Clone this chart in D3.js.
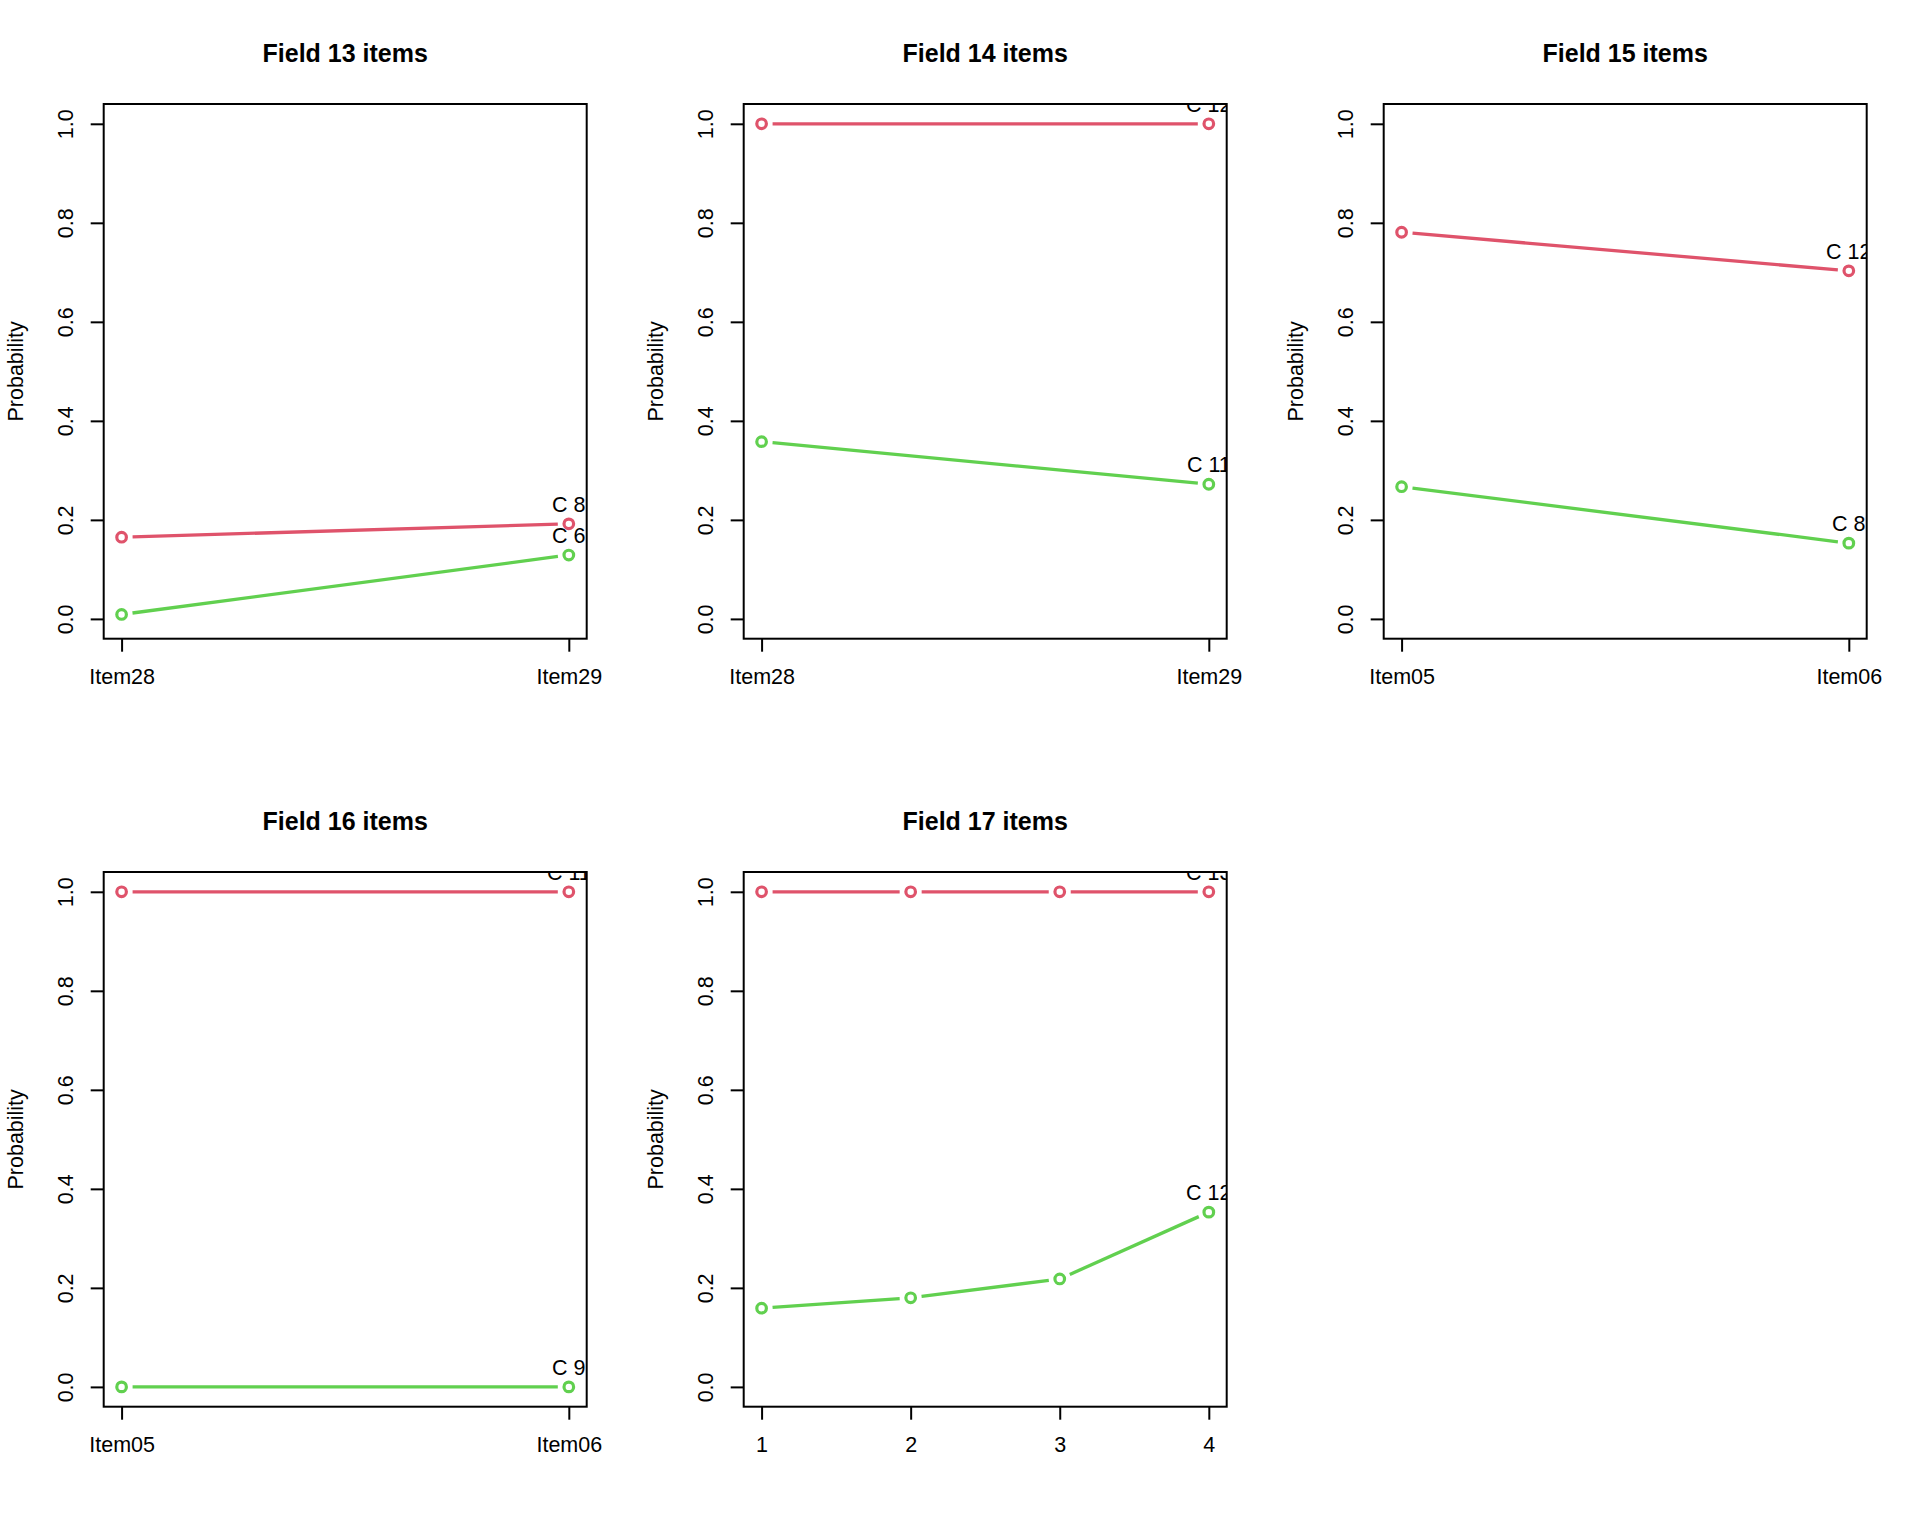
<!DOCTYPE html>
<html>
<head>
<meta charset="utf-8">
<script src="https://cdn.jsdelivr.net/npm/d3@7"></script>
<style>
  html, body { margin: 0; padding: 0; background: #ffffff; }
  svg { display: block; }
  text { font-family: "Liberation Sans", Arial, Helvetica, sans-serif; fill: #000; }
</style>
</head>
<body>
<script>
// ---- data ----
const panelTitles = ["Field 13 items", "Field 14 items", "Field 15 items", "Field 16 items", "Field 17 items"];
const panelTickLabels = [
  ["Item28", "Item29"],
  ["Item28", "Item29"],
  ["Item05", "Item06"],
  ["Item05", "Item06"],
  ["1", "2", "3", "4"]
];
const seriesRed = [
  [0.165, 0.192],
  [1.0, 1.0],
  [0.781, 0.703],
  [1.0, 1.0],
  [1.0, 1.0, 1.0, 1.0]
];
const seriesGreen = [
  [0.009, 0.129],
  [0.358, 0.272],
  [0.267, 0.153],
  [0.0, 0.0],
  [0.159, 0.180, 0.218, 0.353]
];
const labelsRed = ["C 8", "C 12", "C 12", "C 11", "C 13"];
const labelsGreen = ["C 6", "C 11", "C 8", "C 9", "C 12"];
const yTicks = [0, 0.2, 0.4, 0.6, 0.8, 1.0];
const seriesColors = ["#DF536B", "#61D04F"];

// ---- layout ----
const W = 1920, H = 1536;
const cellW = 640, cellH = 768;
const mL = 103.7, mR = 53.3, mT = 104, mB = 129.3;
const fontAxis = 21.5, fontTitle = 25;

const svg = d3.select("body").append("svg")
  .attr("width", W).attr("height", H)
  .attr("viewBox", `0 0 ${W} ${H}`);
svg.append("rect").attr("width", W).attr("height", H).attr("fill", "#fff");

const fmt = d3.format(".1f");

panelTitles.forEach((title, i) => {
  const col = i % 3, row = Math.floor(i / 3);
  const ox = col * cellW, oy = row * cellH;
  const L = ox + mL, R = ox + cellW - mR, T = oy + mT, B = oy + cellH - mB;
  const n = panelTickLabels[i].length;
  const pad = 0.04 * (n - 1);
  const x = d3.scaleLinear().domain([1 - pad, n + pad]).range([L, R]);
  const y = d3.scaleLinear().domain([-0.04, 1.04]).range([B, T]);

  const g = svg.append("g");

  const clipId = "clip" + i;
  g.append("clipPath").attr("id", clipId)
    .append("rect").attr("x", L).attr("y", T).attr("width", R - L).attr("height", B - T);

  // title
  g.append("text")
    .attr("x", (L + R) / 2).attr("y", T - 41.7)
    .attr("text-anchor", "middle")
    .style("font-size", fontTitle + "px").style("font-weight", "bold")
    .text(title);

  // y axis
  const yAxis = d3.axisLeft(y).tickValues(yTicks).tickSize(13).tickFormat(fmt);
  const ya = g.append("g").attr("transform", `translate(${L},0)`).call(yAxis);
  ya.select(".domain").remove();
  ya.selectAll(".tick line").attr("stroke", "#000").attr("stroke-width", 2);
  ya.selectAll(".tick text")
    .attr("dy", null)
    .attr("transform", "translate(-31,0) rotate(-90)")
    .attr("x", 0).attr("y", 0)
    .attr("text-anchor", "middle")
    .style("font-size", fontAxis + "px")
    .style("font-family", "'Liberation Sans', Arial, sans-serif")
    .attr("fill", "#000");

  // x axis
  const xVals = d3.range(1, n + 1);
  const xAxis = d3.axisBottom(x).tickValues(xVals).tickSize(13)
    .tickFormat((d, k) => panelTickLabels[i][k]);
  const xa = g.append("g").attr("transform", `translate(0,${B})`).call(xAxis);
  xa.select(".domain").remove();
  xa.selectAll(".tick line").attr("stroke", "#000").attr("stroke-width", 2);
  xa.selectAll(".tick text")
    .attr("y", 45.6).attr("dy", null)
    .attr("text-anchor", "middle")
    .style("font-size", fontAxis + "px")
    .style("font-family", "'Liberation Sans', Arial, sans-serif")
    .attr("fill", "#000");

  // y label
  g.append("text")
    .attr("transform", `translate(${ox + 23},${(T + B) / 2}) rotate(-90)`)
    .attr("text-anchor", "middle")
    .style("font-size", fontAxis + "px")
    .text("Probability");

  // series
  const plot = g.append("g").attr("clip-path", `url(#${clipId})`);
  const allSeries = [seriesRed[i], seriesGreen[i]];
  const allLabels = [labelsRed[i], labelsGreen[i]];
  const gap = 11;
  allSeries.forEach((vals, s) => {
    const pts = vals.map((v, k) => [x(k + 1), y(v)]);
    const segs = d3.pairs(pts);
    plot.selectAll(null).data(segs).enter().append("line")
      .each(function ([a, b]) {
        const dx = b[0] - a[0], dy = b[1] - a[1];
        const len = Math.hypot(dx, dy);
        const ux = dx / len, uy = dy / len;
        d3.select(this)
          .attr("x1", a[0] + ux * gap).attr("y1", a[1] + uy * gap)
          .attr("x2", b[0] - ux * gap).attr("y2", b[1] - uy * gap);
      })
      .attr("stroke", seriesColors[s]).attr("stroke-width", 3.3);
    plot.selectAll(null).data(pts).enter().append("circle")
      .attr("cx", d => d[0]).attr("cy", d => d[1]).attr("r", 4.8)
      .attr("fill", "none").attr("stroke", seriesColors[s]).attr("stroke-width", 3.2);
    const last = pts[pts.length - 1];
    plot.append("text")
      .attr("x", last[0]).attr("y", last[1] - 12.3)
      .attr("text-anchor", "middle")
      .style("font-size", fontAxis + "px")
      .text(allLabels[s]);
  });

  // box
  g.append("rect")
    .attr("x", L).attr("y", T).attr("width", R - L).attr("height", B - T)
    .attr("fill", "none").attr("stroke", "#000").attr("stroke-width", 2);
});
</script>
</body>
</html>
